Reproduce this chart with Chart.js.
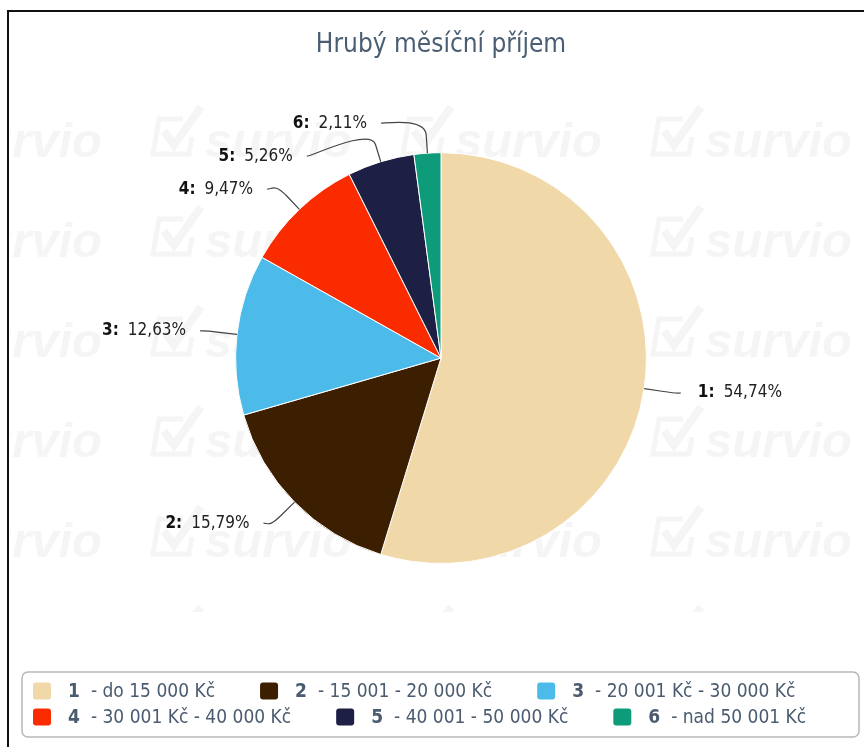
<!DOCTYPE html>
<html>
<head>
<meta charset="utf-8">
<title>Hrubý měsíční příjem</title>
<script src="https://cdn.jsdelivr.net/npm/chart.js@4/dist/chart.umd.min.js"></script>
<style>
  html, body { margin: 0; padding: 0; background: #fff; }
  #wrap { position: relative; width: 864px; height: 747px; overflow: hidden; }
  #frame { position: absolute; left: 7px; top: 10px; right: -10px; bottom: -10px;
           border-left: 2px solid #111; border-top: 2px solid #111; }
  #chart { position: absolute; left: 0; top: 0; }
</style>
</head>
<body>
<div id="wrap">
  <div id="frame"></div>
  <canvas id="chart" width="864" height="747"></canvas>
</div>
<script>
// data
const titleText = 'Hrubý měsíční příjem';
const categories = ['1', '2', '3', '4', '5', '6'];
const categoryNames = ['do 15 000 Kč', '15 001 - 20 000 Kč', '20 001 Kč - 30 000 Kč',
                       '30 001 Kč - 40 000 Kč', '40 001 - 50 000 Kč', 'nad 50 001 Kč'];
const answers = [52, 15, 12, 9, 5, 2];
const sliceColors = ['#f1d8a8', '#3c1e00', '#4cbbe9', '#fb2b00', '#1d1f44', '#0d9b79'];

const FONT = '"DejaVu Sans Condensed", "DejaVu Sans", sans-serif';
const total = answers.reduce((a, b) => a + b, 0);
const pctText = v => (v / total * 100).toFixed(2).replace('.', ',') + '%';

// pozadi s vodoznakem "survio"
const watermark = {
    id: 'watermark',
    beforeDraw(chart) {
        const ctx = chart.ctx;
        ctx.save();
        ctx.beginPath();
        ctx.rect(10, 12, 854, 600);
        ctx.clip();
        ctx.fillStyle = '#f5f5f5';
        ctx.strokeStyle = '#f5f5f5';
        ctx.font = 'italic bold 49px "Liberation Sans", sans-serif';
        ctx.textBaseline = 'alphabetic';
        for (let y = 157; y < 720; y += 100) {
            for (let x = -95; x < 864; x += 250) {
                // zaskrtavatko
                ctx.lineWidth = 5;
                ctx.beginPath();
                ctx.moveTo(x + 28, y - 38);
                ctx.lineTo(x + 4, y - 38);
                ctx.lineTo(x - 2, y - 3);
                ctx.lineTo(x + 34, y - 3);
                ctx.lineTo(x + 37, y - 20);
                ctx.stroke();
                ctx.lineWidth = 8;
                ctx.beginPath();
                ctx.moveTo(x + 9, y - 26);
                ctx.lineTo(x + 19, y - 12);
                ctx.lineTo(x + 46, y - 50);
                ctx.stroke();
                ctx.fillText('survio', x + 50, y);
            }
        }
        ctx.restore();
    }
};

// popisky s vodicimi carami
const sliceLabels = {
    id: 'sliceLabels',
    afterDatasetsDraw(chart) {
        const ctx = chart.ctx;
        const arcs = chart.getDatasetMeta(0).data;
        const items = arcs.map((arc, i) => {
            const p = arc.getProps(['x', 'y', 'startAngle', 'endAngle', 'outerRadius'], true);
            const mid = (p.startAngle + p.endAngle) / 2;
            return {
                i, mid, cx: p.x, cy: p.y, r: p.outerRadius,
                right: Math.cos(mid) >= 0,
                ly: p.y + (p.outerRadius + 30) * Math.sin(mid)
            };
        });
        // posunuti popisku aby se neprekryvaly
        [true, false].forEach(side => {
            const list = items.filter(it => it.right === side).sort((a, b) => a.ly - b.ly);
            for (let k = 1; k < list.length; k++) {
                if (list[k].ly - list[k - 1].ly < 33) list[k].ly = list[k - 1].ly + 33;
            }
        });

        ctx.save();
        ctx.lineWidth = 1.2;
        ctx.strokeStyle = '#444';
        ctx.textBaseline = 'middle';
        const boldFont = 'bold 17px ' + FONT;
        const normFont = '17px ' + FONT;
        items.forEach(it => {
            const R = it.r + 37;
            const dy = it.ly - it.cy;
            const dx = Math.sqrt(Math.max(R * R - dy * dy, 0));
            const sign = it.right ? 1 : -1;
            const endX = it.cx + sign * dx;
            const touch = { x: it.cx + it.r * Math.cos(it.mid), y: it.cy + it.r * Math.sin(it.mid) };
            const brk = { x: it.cx + (it.r + 18) * Math.cos(it.mid), y: it.cy + (it.r + 18) * Math.sin(it.mid) };
            ctx.beginPath();
            ctx.moveTo(endX, it.ly);
            ctx.bezierCurveTo(endX - sign * 5, it.ly, 2 * brk.x - touch.x, 2 * brk.y - touch.y, brk.x, brk.y);
            ctx.lineTo(touch.x, touch.y);
            ctx.stroke();

            const head = categories[it.i] + ':';
            const tail = pctText(answers[it.i]);
            ctx.font = boldFont;
            const wHead = ctx.measureText(head).width;
            ctx.font = normFont;
            const wTail = ctx.measureText(tail).width;
            const gap = 9;
            let x = it.right ? endX + 17 : endX - 14 - (wHead + gap + wTail);
            ctx.fillStyle = '#111';
            ctx.font = boldFont;
            ctx.textAlign = 'left';
            ctx.fillText(head, x, it.ly);
            ctx.font = normFont;
            ctx.fillStyle = '#222';
            ctx.fillText(tail, x + wHead + gap, it.ly);
        });
        ctx.restore();
    }
};

// legenda dole v ramecku
const boxLegend = {
    id: 'boxLegend',
    afterDraw(chart) {
        const ctx = chart.ctx;
        const box = { x: 22, y: 672, w: 837, h: 65 };
        ctx.save();
        ctx.strokeStyle = '#b8b8b8';
        ctx.lineWidth = 1.5;
        ctx.beginPath();
        ctx.roundRect(box.x, box.y, box.w, box.h, 6);
        ctx.stroke();

        const numFont = 'bold 19px ' + FONT;
        const txtFont = '19px ' + FONT;
        const rows = [691, 717];
        let row = 0;
        let x = 33;
        ctx.textBaseline = 'middle';
        categories.forEach((c, i) => {
            const label = '- ' + categoryNames[i];
            ctx.font = numFont;
            const wNum = ctx.measureText(c).width;
            ctx.font = txtFont;
            const wTxt = ctx.measureText(label).width;
            const w = 35 + wNum + 11 + wTxt;
            if (x + w > box.x + box.w - 10) { row++; x = 33; }
            const y = rows[row];
            ctx.fillStyle = sliceColors[i];
            ctx.beginPath();
            ctx.roundRect(x, y - 8.5, 18, 17, 3);
            ctx.fill();
            ctx.fillStyle = '#4b5c70';
            ctx.font = numFont;
            ctx.fillText(c, x + 35, y + 1);
            ctx.font = txtFont;
            ctx.fillText(label, x + 35 + wNum + 11, y + 1);
            x += w + 45;
        });
        ctx.restore();
    }
};

new Chart(document.getElementById('chart'), {
    type: 'pie',
    data: {
        labels: categories,
        datasets: [{
            data: answers,
            backgroundColor: sliceColors,
            borderColor: '#ffffff',
            borderWidth: 1
        }]
    },
    options: {
        responsive: false,
        devicePixelRatio: 1,
        animation: false,
        layout: { padding: { top: 0, bottom: 183, left: 100, right: 82 } },
        plugins: {
            legend: { display: false },
            tooltip: { enabled: false },
            title: {
                display: true,
                text: titleText,
                color: '#4a5e73',
                font: { family: FONT, size: 26, weight: 'normal', lineHeight: 1.2 },
                padding: { top: 30, bottom: 91 }
            }
        }
    },
    plugins: [watermark, sliceLabels, boxLegend]
});
</script>
</body>
</html>
